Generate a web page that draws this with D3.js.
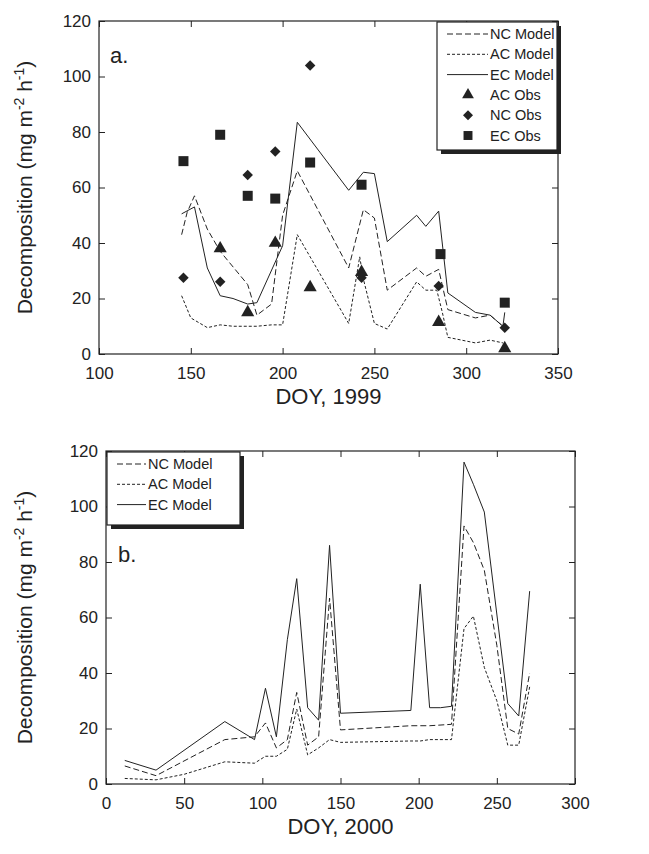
<!DOCTYPE html>
<meta charset="utf-8">
<style>
body { margin: 0; background: #fff; }
text { font-family: "Liberation Sans", Arial, sans-serif; fill: #222; }
</style>
<svg class="chart" width="649" height="854"></svg>
<script src="https://d3js.org/d3.v7.min.js"></script>
<script>
// panel a, 1999
var ecModelA = [[145,50.5],[152,53],[159,31],[166,21],[173,20],[181,18],[186,18.5],[200,39],[208,83.5],[236,59],[244,65.5],[250,65],[257,40.5],[273,50],[278,46],[285,51.5],[290,22],[305,15],[313,14],[320,10],[321,15]];
var ncModelA = [[145,43],[148,51],[152,57],[159,45],[166,37],[181,25],[186,14],[194,18],[200,50],[208,66],[236,31],[244,52],[250,49],[257,23],[273,31],[278,28],[285,30.5],[290,16],[305,13],[313,14],[320,10]];
var acModelA = [[145,21],[150,13],[159,9.5],[166,10.5],[173,10],[186,10],[194,10.5],[200,10.5],[208,43],[236,11],[242,35],[244,27],[250,11],[257,9],[273,26],[278,23],[284,23],[287,15],[290,6],[305,4],[313,5],[320,4]];
var ecObsA = [[146,69.5],[166,79],[181,57],[196,56],[215,69],[243,61],[286,36],[321,18.5]];
var ncObsA = [[146,27.5],[166,26],[181,64.5],[196,73],[215,104],[243,27.5],[285,24.5],[321,9.5]];
var acObsA = [[166,38],[181,15],[196,40],[215,24],[243,29.5],[285,11.5],[321,2]];

// panel b, 2000
var ecModelB = [[12,8.5],[32,5],[76,22.5],[95,16],[102,34.5],[109,17],[116,52],[122,74],[129,27.5],[136,23],[143,86],[150,25.5],[195,26.5],[201,72],[207,27.5],[214,27.5],[221,28],[229,116],[235,108],[242,98],[257,29],[264,24.5],[271,69.5]];
var ncModelB = [[12,6.5],[32,3],[76,16],[95,17],[102,22],[109,13],[116,16],[122,33],[129,14],[136,17],[143,67],[150,19.5],[195,21],[207,21],[221,21.5],[229,93],[235,87],[242,77],[250,50],[257,20],[264,18],[271,40]];
var acModelB = [[12,2],[32,1.5],[50,3.5],[76,8],[95,7.5],[102,10],[109,10],[116,12.5],[122,27],[129,10.5],[136,13],[143,16],[150,15],[195,15.5],[201,15.5],[207,16],[221,16],[229,56],[235,60.5],[242,42],[250,30],[257,14],[264,14],[271,35]];

var xTicksA = [100,150,200,250,300,350];
var xTicksB = [0,50,100,150,200,250,300];
var yTicks = [0,20,40,60,80,100,120];

var svg = d3.select(".chart");
var dashes = { NC: "6,3", AC: "3,2", EC: null };

function panel(o) {
  var x = d3.scaleLinear().domain(o.xd).range([o.left, o.right]);
  var y = d3.scaleLinear().domain([0, 120]).range([o.bottom, o.top]);
  var g = svg.append("g");

  g.append("rect").attr("x", o.left).attr("y", o.top)
    .attr("width", o.right - o.left).attr("height", o.bottom - o.top)
    .attr("fill", "none").attr("stroke", "#222").attr("stroke-width", 1.2);

  g.append("g").attr("transform", "translate(0," + o.bottom + ")")
    .call(d3.axisBottom(x).tickValues(o.xt).tickSizeInner(-6).tickSizeOuter(0).tickPadding(13));
  g.append("g").attr("transform", "translate(" + o.left + ",0)")
    .call(d3.axisLeft(y).tickValues(yTicks).tickSizeInner(-6).tickSizeOuter(0).tickPadding(8));
  g.append("g").attr("transform", "translate(0," + o.top + ")")
    .call(d3.axisTop(x).tickValues(o.xt).tickSizeInner(-6).tickSizeOuter(0).tickFormat(""));
  g.append("g").attr("transform", "translate(" + o.right + ",0)")
    .call(d3.axisRight(y).tickValues(yTicks).tickSizeInner(-6).tickSizeOuter(0).tickFormat(""));
  g.selectAll(".domain").remove();
  g.selectAll(".tick line").attr("stroke", "#222");
  g.selectAll(".tick text").style("font-size", "17px").attr("fill", "#222");

  var line = d3.line().x(function(d) { return x(d[0]); }).y(function(d) { return y(d[1]); });
  o.lines.forEach(function(l) {
    g.append("path").datum(l.data).attr("d", line).attr("fill", "none")
      .attr("stroke", "#222").attr("stroke-width", 1)
      .attr("stroke-dasharray", dashes[l.key]);
  });

  (o.obs || []).forEach(function(s) {
    g.selectAll(null).data(s.data).enter().append("path")
      .attr("d", d3.symbol().type(s.type).size(s.size))
      .attr("transform", function(d) { return "translate(" + x(d[0]) + "," + y(d[1]) + ")" + (s.rot ? " rotate(45)" : ""); })
      .attr("fill", "#222");
  });

  g.append("text").attr("x", x(o.xd[0]) + o.panelDx).attr("y", y(o.panelY))
    .style("font-size", "22px").text(o.panelLabel);

  g.append("text").attr("x", (o.left + o.right) / 2).attr("y", o.bottom + 50)
    .attr("text-anchor", "middle").style("font-size", "22px").text(o.xTitle);

  var yt = g.append("text").attr("transform", "translate(32," + ((o.top + o.bottom) / 2) + ") rotate(-90)")
    .attr("text-anchor", "middle").style("font-size", "21px");
  yt.append("tspan").text("Decomposition (mg m");
  yt.append("tspan").attr("dy", -8).style("font-size", "14px").text("-2");
  yt.append("tspan").attr("dy", 8).text(" h");
  yt.append("tspan").attr("dy", -8).style("font-size", "14px").text("-1");
  yt.append("tspan").attr("dy", 8).text(")");

  // legend
  var L = o.legend;
  g.append("rect").attr("x", L.x + 4).attr("y", L.y + 4).attr("width", L.w).attr("height", L.h).attr("fill", "#222");
  g.append("rect").attr("x", L.x).attr("y", L.y).attr("width", L.w).attr("height", L.h)
    .attr("fill", "#fff").attr("stroke", "#222").attr("stroke-width", 1.2);
  L.items.forEach(function(it, i) {
    var cy = L.y + 12 + i * 20.3;
    if (it.sym) {
      g.append("path").attr("d", d3.symbol().type(it.sym).size(it.size))
        .attr("transform", "translate(" + (L.x + 31) + "," + cy + ")" + (it.rot ? " rotate(45)" : ""))
        .attr("fill", "#222");
    } else {
      g.append("line").attr("x1", L.x + 10).attr("x2", L.x + L.lw).attr("y1", cy).attr("y2", cy)
        .attr("stroke", "#222").attr("stroke-dasharray", dashes[it.key]);
    }
    g.append("text").attr("x", L.x + L.lw + 2).attr("y", cy + 5).style("font-size", "14.5px").text(it.label);
  });
}

panel({
  xd: [100, 350], xt: xTicksA, left: 99, right: 558, top: 21, bottom: 354,
  xTitle: "DOY, 1999", panelLabel: "a.", panelDx: 11, panelY: 105,
  lines: [{key: "NC", data: ncModelA}, {key: "AC", data: acModelA}, {key: "EC", data: ecModelA}],
  obs: [
    {data: acObsA, type: d3.symbolTriangle, size: 75},
    {data: ncObsA, type: d3.symbolSquare, size: 55, rot: true},
    {data: ecObsA, type: d3.symbolSquare, size: 100}
  ],
  legend: {x: 437, y: 22, w: 120, h: 128, lw: 51, items: [
    {key: "NC", label: "NC Model"}, {key: "AC", label: "AC Model"}, {key: "EC", label: "EC Model"},
    {sym: d3.symbolTriangle, size: 60, label: "AC Obs"},
    {sym: d3.symbolSquare, size: 50, rot: true, label: "NC Obs"},
    {sym: d3.symbolSquare, size: 80, label: "EC Obs"}
  ]}
});

panel({
  xd: [0, 300], xt: xTicksB, left: 106, right: 575, top: 451, bottom: 784,
  xTitle: "DOY, 2000", panelLabel: "b.", panelDx: 12, panelY: 80,
  lines: [{key: "NC", data: ncModelB}, {key: "AC", data: acModelB}, {key: "EC", data: ecModelB}],
  legend: {x: 107, y: 452, w: 133, h: 73, lw: 39, items: [
    {key: "NC", label: "NC Model"}, {key: "AC", label: "AC Model"}, {key: "EC", label: "EC Model"}
  ]}
});
</script>
